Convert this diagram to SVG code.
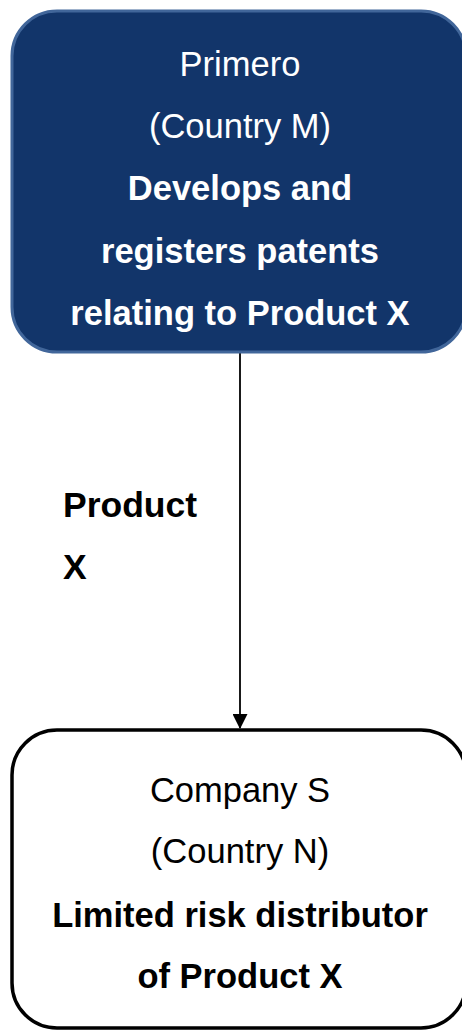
<svg xmlns="http://www.w3.org/2000/svg" width="462" height="1031" viewBox="0 0 462 1031">
  <style>
    text { font-family: "Liberation Sans", Arial, sans-serif; font-size: 34.5px; text-anchor: middle; }
    .b { font-weight: bold; }
    .light { fill: #ffffff; }
    .dark { fill: #000000; }
    .lbl { text-anchor: start; font-weight: bold; font-size: 35.5px; }
  </style>
  <defs>
    <marker id="arrow" markerWidth="15" markerHeight="15" refX="14" refY="7.5" orient="auto" markerUnits="userSpaceOnUse" viewBox="0 0 15 15">
      <path d="M0,0 L15,7.5 L0,15 Z" fill="#000"/>
    </marker>
  </defs>

  <!-- connector: Primero -> Company S -->
  <g id="connectors">
    <line x1="240" y1="353" x2="240" y2="728" stroke="#000" stroke-width="1.8" marker-end="url(#arrow)"/>
    <text class="lbl dark" x="63" y="517">Product</text>
    <text class="lbl dark" x="63" y="579">X</text>
  </g>

  <!-- Primero node -->
  <g id="node-primero">
    <rect x="12" y="11" width="454" height="341" rx="45" ry="45" fill="#12356a" stroke="#41669a" stroke-width="3"/>
    <text class="light" x="240" y="76">Primero</text>
    <text class="light" x="240" y="138">(Country M)</text>
    <text class="light b" x="240" y="200">Develops and</text>
    <text class="light b" x="240" y="263">registers patents</text>
    <text class="light b" x="240" y="325">relating to Product X</text>
  </g>

  <!-- Company S node -->
  <g id="node-company-s">
    <rect x="12" y="730" width="454" height="298" rx="45" ry="45" fill="#ffffff" stroke="#000" stroke-width="3.5"/>
    <text class="dark" x="240" y="802">Company S</text>
    <text class="dark" x="240" y="863">(Country N)</text>
    <text class="dark b" x="240" y="927">Limited risk distributor</text>
    <text class="dark b" x="240" y="988">of Product X</text>
  </g>
</svg>
